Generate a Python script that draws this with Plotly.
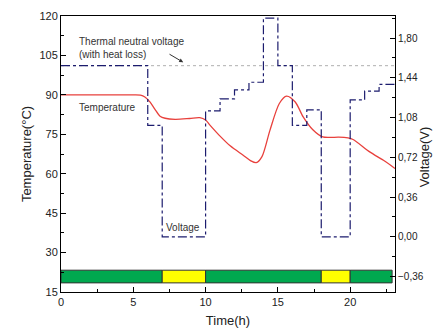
import plotly.graph_objects as go

# ---- data ----
time_temp = [0, 1, 2, 3, 4, 5, 5.5, 5.8, 6.15, 6.5, 6.85, 7.2, 7.9, 8.9, 9.6, 10.0, 10.3,
             11.0, 11.7, 12.6, 13.1, 13.5, 13.9, 14.45, 15.1, 15.6, 16.2, 16.75, 17.4,
             18.1, 18.6, 19.2, 19.85, 20.2, 21.35, 22.3, 23.1]
temperature = [90, 90, 90, 90, 90, 90, 89.9, 89.2, 87.3, 84.5, 81.9, 81.1, 80.7, 81.0, 81.3, 80.4, 78.5,
               74.3, 70.6, 67.0, 65.0, 64.2, 66.5, 76.5, 86.7, 89.5, 87.3, 81.6, 76.8,
               74.0, 73.8, 73.9, 73.6, 73.0, 68.3, 65.1, 62.0]

volt_time = [0, 6, 7, 10, 11, 12, 13, 14, 15, 16, 17, 18, 20, 21, 22, 23.1]
voltage = [1.55, 1.01, 0.0, 1.14, 1.25, 1.33, 1.40, 1.98, 1.55, 1.01, 1.15, 0.0, 1.24, 1.32, 1.38, 1.38]

thermal_neutral = 1.55

mode_start = [0, 7, 10, 18, 20]
mode_end = [7, 10, 18, 20, 22.9]
mode_colors = ["#00a84f", "#ffff00", "#00a84f", "#ffff00", "#00a84f"]
mode_level = -0.36

x_range = [0, 23.1]
temp_range = [15, 120]
volt_range = [-0.5, 2.0]

FONT = "Liberation Sans, Arial, sans-serif"

fig = go.Figure()

# mode bar
fig.add_trace(go.Bar(
    y=[mode_level] * len(mode_start),
    x=[e - s for s, e in zip(mode_start, mode_end)],
    base=mode_start,
    orientation="h",
    width=0.115,
    marker=dict(color=mode_colors, line=dict(color="#333333", width=1)),
    yaxis="y2", showlegend=False, hoverinfo="skip",
))

# thermal neutral line
fig.add_trace(go.Scatter(
    x=x_range, y=[thermal_neutral, thermal_neutral], mode="lines",
    line=dict(color="#b0b0b0", width=1, dash="dot"),
    yaxis="y2", showlegend=False,
))

# voltage
fig.add_trace(go.Scatter(
    x=volt_time, y=voltage, mode="lines", line_shape="hv",
    line=dict(color="#1c1c6e", width=1.2, dash="dashdot"),
    yaxis="y2", showlegend=False,
))

# temperature
fig.add_trace(go.Scatter(
    x=time_temp, y=temperature, mode="lines", line_shape="spline",
    line=dict(color="#e8403c", width=1.3, smoothing=0.8),
    showlegend=False,
))

ann_font = dict(family=FONT, size=10, color="#333333")
fig.add_annotation(x=1.1, y=108, xref="x", yref="y", text="Thermal neutral voltage<br>(with heat loss)",
                   showarrow=False, xanchor="left", align="left", font=ann_font)
fig.add_annotation(x=8.45, y=102.4, ax=7.4, ay=105.8, xref="x", yref="y", axref="x", ayref="y",
                   text="", showarrow=True, arrowhead=2, arrowsize=0.8, arrowwidth=1, arrowcolor="#333333")
fig.add_annotation(x=1.1, y=85.3, xref="x", yref="y", text="Temperature",
                   showarrow=False, xanchor="left", font=ann_font)
fig.add_annotation(x=8.45, y=39.4, xref="x", yref="y", text="Voltage",
                   showarrow=False, font=ann_font)
# right axis title
fig.add_annotation(x=1.117, y=0.49, xref="paper", yref="paper", text="Voltage(V)", textangle=-90,
                   showarrow=False, font=dict(family=FONT, size=13, color="#222222"))

axis_common = dict(showline=True, linecolor="black", linewidth=1, ticks="inside", ticklen=5,
                   tickcolor="black", showgrid=False, zeroline=False, automargin=False)

fig.update_layout(
    width=446, height=331,
    margin=dict(l=61, r=51, t=16, b=39),
    plot_bgcolor="white", paper_bgcolor="white",
    separators=",.",
    barmode="overlay",
    xaxis=dict(range=x_range, tick0=0, dtick=5, mirror=True,
               minor=dict(ticks="inside", dtick=2.5, ticklen=3, tickcolor="black"),
               tickfont=dict(family=FONT, size=11, color="#222222"),
               title=dict(text="Time(h)", font=dict(family=FONT, size=13, color="#222222"), standoff=8),
               **axis_common),
    yaxis=dict(range=temp_range, tick0=15, dtick=15,
               minor=dict(ticks="inside", dtick=7.5, ticklen=3, tickcolor="black"),
               tickfont=dict(family=FONT, size=11, color="#222222"),
               title=dict(text="Temperature(°C)", font=dict(family=FONT, size=13, color="#222222"), standoff=4),
               **axis_common),
    yaxis2=dict(range=volt_range, overlaying="y", side="right", tick0=0, dtick=0.36, tickformat=".2f",
                minor=dict(ticks="inside", dtick=0.18, ticklen=3, tickcolor="black"),
                tickfont=dict(family=FONT, size=10, color="#222222"),
                **axis_common),
)

fig.write_html("out.html")
